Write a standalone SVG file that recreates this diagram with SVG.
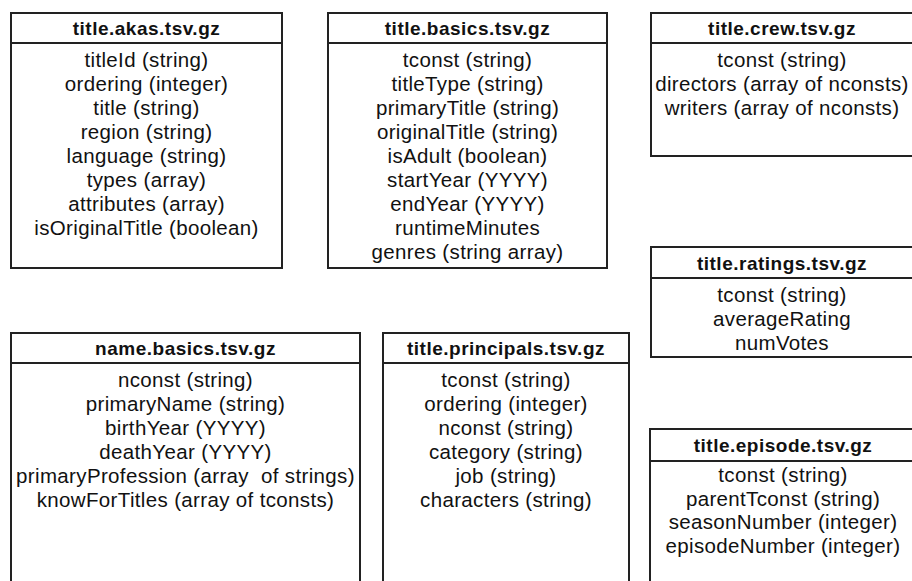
<svg xmlns="http://www.w3.org/2000/svg" width="912" height="581" viewBox="0 0 912 581">
<style>
  rect.box { fill: #ffffff; stroke: #222222; stroke-width: 2; }
  line.div { stroke: #222222; stroke-width: 2; }
  text { font-family: "Liberation Sans", Arial, sans-serif; fill: #111111; text-anchor: middle; }
  text.h { font-size: 19px; font-weight: bold; letter-spacing: 0.5px; }
  text.f { font-size: 20.5px; letter-spacing: 0.35px; }
</style>
<rect width="912" height="581" fill="#ffffff"/>

<g id="title-akas">
  <rect class="box" x="11" y="13" width="271" height="255"/>
  <line class="div" x1="11" y1="43" x2="282" y2="43"/>
  <text class="h" x="146.5" y="35">title.akas.tsv.gz</text>
  <text class="f" x="146.5" y="67">titleId (string)</text>
  <text class="f" x="146.5" y="91">ordering (integer)</text>
  <text class="f" x="146.5" y="115">title (string)</text>
  <text class="f" x="146.5" y="139">region (string)</text>
  <text class="f" x="146.5" y="163">language (string)</text>
  <text class="f" x="146.5" y="187">types (array)</text>
  <text class="f" x="146.5" y="211">attributes (array)</text>
  <text class="f" x="146.5" y="235">isOriginalTitle (boolean)</text>
</g>

<g id="title-basics">
  <rect class="box" x="328" y="13" width="279" height="255"/>
  <line class="div" x1="328" y1="43" x2="607" y2="43"/>
  <text class="h" x="467.5" y="35">title.basics.tsv.gz</text>
  <text class="f" x="467.5" y="67">tconst (string)</text>
  <text class="f" x="467.5" y="91">titleType (string)</text>
  <text class="f" x="467.5" y="115">primaryTitle (string)</text>
  <text class="f" x="467.5" y="139">originalTitle (string)</text>
  <text class="f" x="467.5" y="163">isAdult (boolean)</text>
  <text class="f" x="467.5" y="187">startYear (YYYY)</text>
  <text class="f" x="467.5" y="211">endYear (YYYY)</text>
  <text class="f" x="467.5" y="235">runtimeMinutes</text>
  <text class="f" x="467.5" y="259">genres (string array)</text>
</g>

<g id="title-crew">
  <rect class="box" x="651" y="13" width="264" height="143"/>
  <line class="div" x1="651" y1="43" x2="915" y2="43"/>
  <text class="h" x="782" y="35">title.crew.tsv.gz</text>
  <text class="f" x="782" y="67">tconst (string)</text>
  <text class="f" x="782" y="91">directors (array of nconsts)</text>
  <text class="f" x="782" y="115">writers (array of nconsts)</text>
</g>

<g id="title-ratings">
  <rect class="box" x="651" y="247" width="264" height="110"/>
  <line class="div" x1="651" y1="278" x2="915" y2="278"/>
  <text class="h" x="782" y="269.5">title.ratings.tsv.gz</text>
  <text class="f" x="782" y="302">tconst (string)</text>
  <text class="f" x="782" y="326">averageRating</text>
  <text class="f" x="782" y="350">numVotes</text>
</g>

<g id="name-basics">
  <rect class="box" x="11" y="333" width="349" height="260"/>
  <line class="div" x1="11" y1="363" x2="360" y2="363"/>
  <text class="h" x="185.5" y="355">name.basics.tsv.gz</text>
  <text class="f" x="185.5" y="387">nconst (string)</text>
  <text class="f" x="185.5" y="411">primaryName (string)</text>
  <text class="f" x="185.5" y="435">birthYear (YYYY)</text>
  <text class="f" x="185.5" y="459">deathYear (YYYY)</text>
  <text class="f" x="185.5" y="483" xml:space="preserve">primaryProfession (array  of strings)</text>
  <text class="f" x="185.5" y="507">knowForTitles (array of tconsts)</text>
</g>

<g id="title-principals">
  <rect class="box" x="383" y="333" width="246" height="260"/>
  <line class="div" x1="383" y1="363" x2="629" y2="363"/>
  <text class="h" x="506" y="355">title.principals.tsv.gz</text>
  <text class="f" x="506" y="387">tconst (string)</text>
  <text class="f" x="506" y="411">ordering (integer)</text>
  <text class="f" x="506" y="435">nconst (string)</text>
  <text class="f" x="506" y="459">category (string)</text>
  <text class="f" x="506" y="483">job (string)</text>
  <text class="f" x="506" y="507">characters (string)</text>
</g>

<g id="title-episode">
  <rect class="box" x="650" y="429" width="265" height="164"/>
  <line class="div" x1="650" y1="461" x2="915" y2="461"/>
  <text class="h" x="783" y="452">title.episode.tsv.gz</text>
  <text class="f" x="783" y="482">tconst (string)</text>
  <text class="f" x="783" y="505.5">parentTconst (string)</text>
  <text class="f" x="783" y="529">seasonNumber (integer)</text>
  <text class="f" x="783" y="552.5">episodeNumber (integer)</text>
</g>

<g id="connectors"></g>
</svg>
